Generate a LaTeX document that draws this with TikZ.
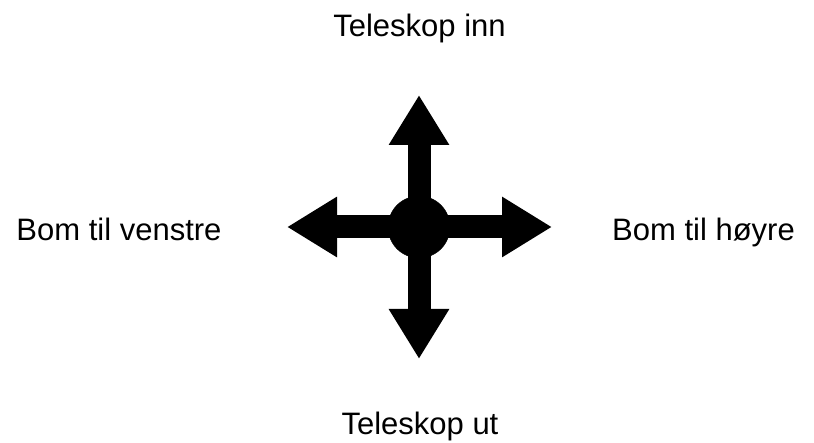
\documentclass[tikz,border=0pt]{standalone}
\usepackage{fontspec}
\setmainfont{Liberation Sans}
\usetikzlibrary{arrows.meta}
\begin{document}
\begin{tikzpicture}[x=1pt,y=1pt,
  label/.style={font=\fontsize{31}{37}\selectfont, anchor=base, inner sep=0pt},
  shaft/.style={line width=23pt, -{Triangle[width=57pt,length=50pt]}}]
\useasboundingbox (0,0) rectangle (814,443);
\node[draw, circle, fill, minimum size=62pt, inner sep=0pt] (hub) at (419,216) {};
\coordinate (inn) at (419,348);
\coordinate (ut) at (419,84);
\coordinate (venstre) at (287,216);
\coordinate (hoyre) at (552,216);
\node[label] (tinn) at (419.5,406) {Teleskop inn};
\node[label] (tut) at (420,8) {Teleskop ut};
\node[label] (bvenstre) at (119,202) {Bom til venstre};
\node[label] (bhoyre) at (703.5,202) {Bom til høyre};
\path[draw,shaft] (hub.center) -- (inn);
\path[draw,shaft] (hub.center) -- (ut);
\path[draw,shaft] (hub.center) -- (venstre);
\path[draw,shaft] (hub.center) -- (hoyre);
\end{tikzpicture}
\end{document}
